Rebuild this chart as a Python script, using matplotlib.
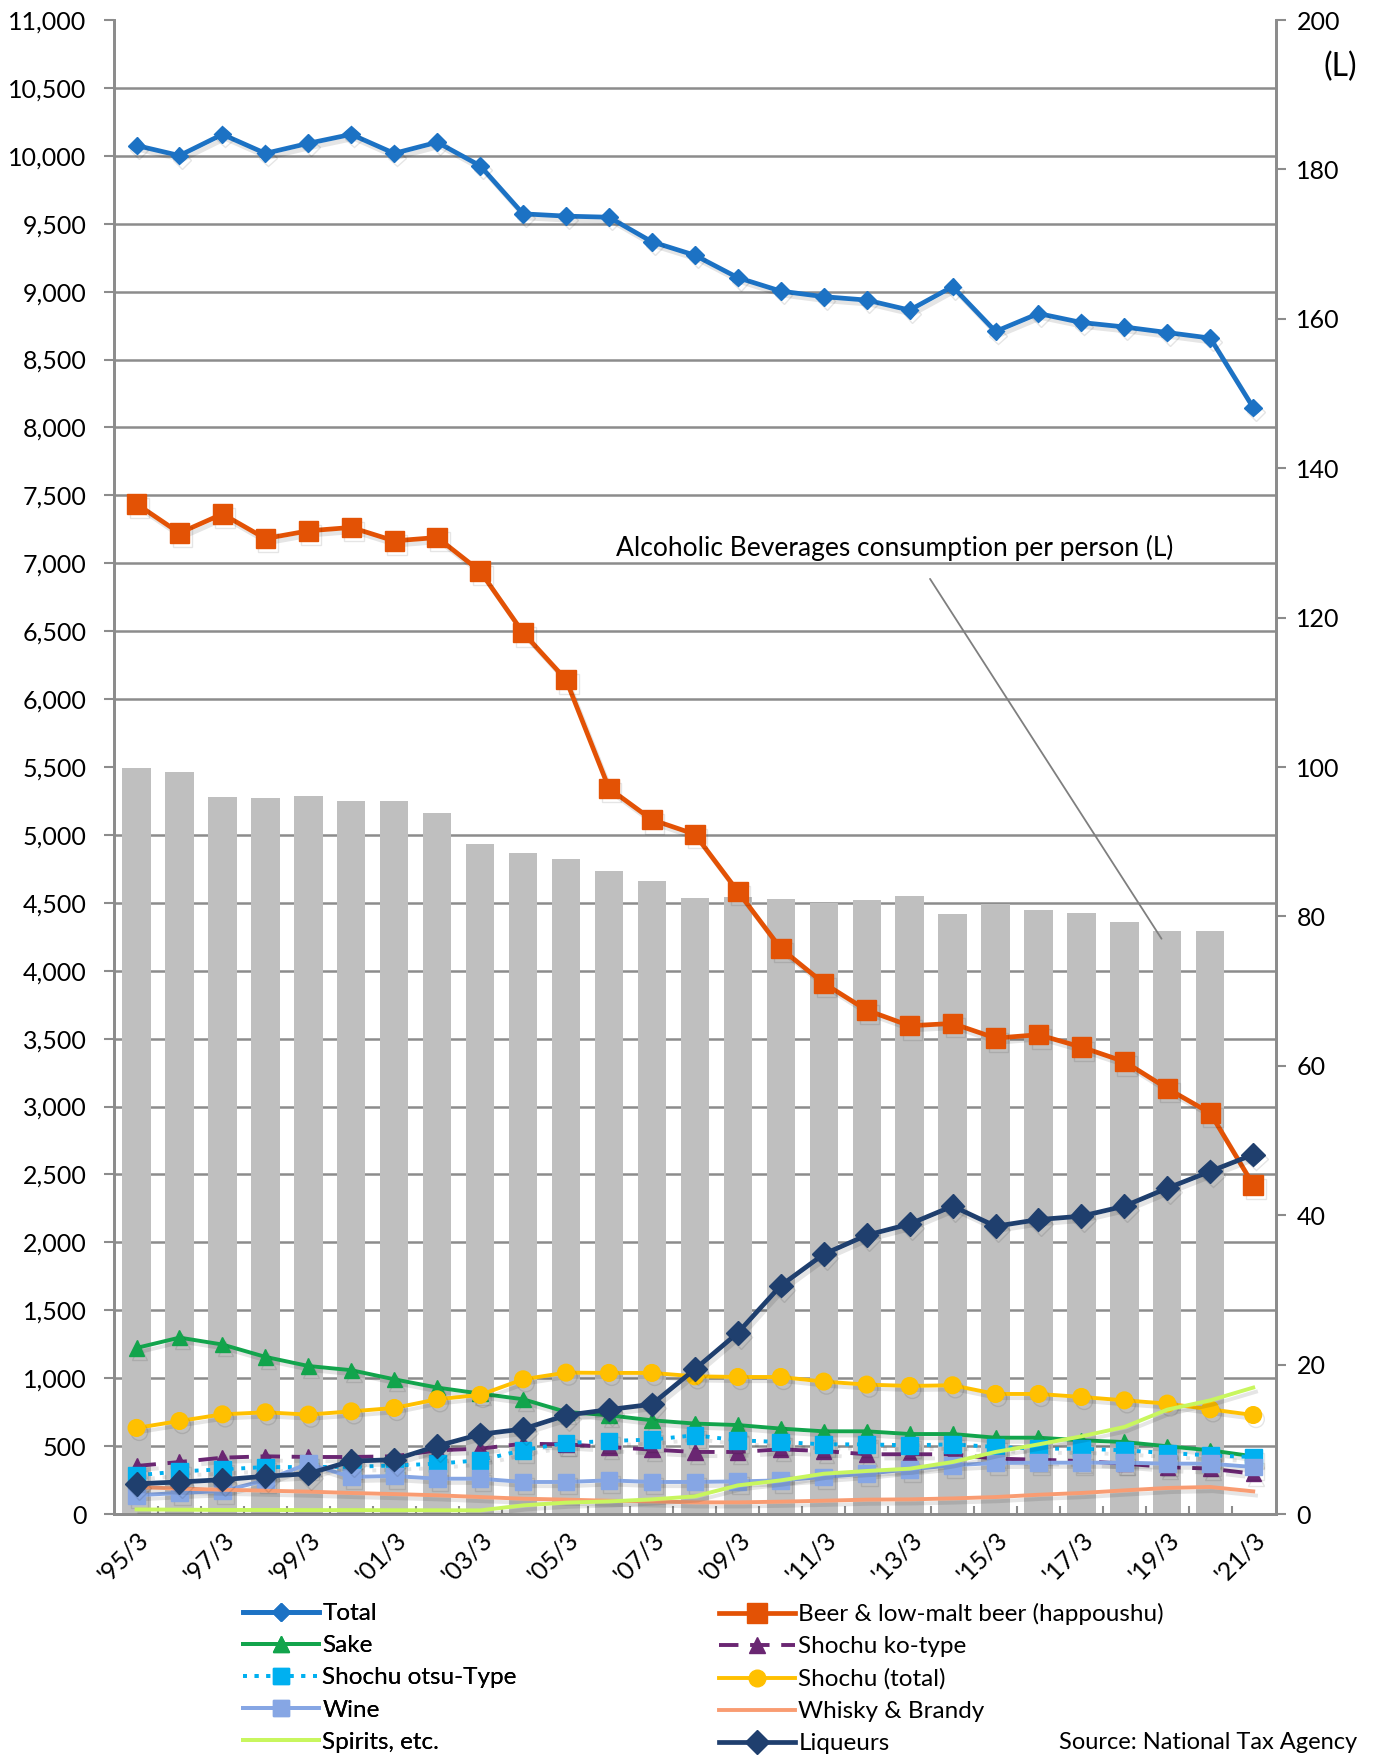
import matplotlib.pyplot as plt
import matplotlib.patheffects as pe
from matplotlib.lines import Line2D
from matplotlib.ticker import MultipleLocator, FuncFormatter

plt.rcParams['font.family'] = ['Lato', 'DejaVu Sans']

# fiscal years (March)
years = ["'%02d/3" % (y % 100) for y in range(1995, 2022)]

# consumption, thousand kL (left axis)
total = [10076, 10002, 10158, 10018, 10092, 10158, 10018, 10100, 9927, 9573, 9556, 9548, 9367,
         9268, 9103, 9004, 8963, 8938, 8864, 9037, 8707, 8839, 8773, 8740, 8699, 8658, 8146]
beer = [7437, 7223, 7363, 7182, 7239, 7264, 7165, 7190, 6942, 6489, 6143, 5343, 5112,
        5005, 4584, 4164, 3908, 3710, 3595, 3612, 3504, 3529, 3438, 3331, 3133, 2952, 2424]
sake = [1223, 1299, 1248, 1157, 1090, 1059, 992, 931, 887, 845, 752, 727, 690,
        666, 655, 629, 609, 609, 589, 589, 562, 562, 543, 530, 499, 469, 425]
shochu_ko = [354, 383, 415, 425, 420, 420, 425, 469, 481, 518, 513, 494, 474,
             457, 457, 476, 464, 440, 440, 440, 408, 400, 390, 371, 346, 334, 297]
shochu_otsu = [285, 314, 329, 346, 346, 348, 357, 371, 396, 470, 523, 538, 548,
               580, 543, 530, 513, 513, 506, 513, 494, 481, 481, 469, 449, 432, 420]
shochu_total = [634, 685, 734, 749, 732, 756, 781, 845, 877, 992, 1041, 1039, 1039,
                1014, 1009, 1009, 975, 953, 943, 948, 884, 884, 862, 837, 813, 771, 729]
wine = [138, 155, 169, 248, 371, 273, 280, 260, 260, 236, 236, 248, 236,
        236, 240, 248, 273, 297, 329, 359, 376, 378, 378, 378, 371, 371, 346]
whisky = [199, 187, 179, 172, 165, 155, 147, 138, 125, 113, 106, 98, 93,
          86, 86, 91, 98, 106, 108, 115, 125, 142, 155, 174, 192, 199, 167]
spirits = [34, 32, 30, 30, 29, 29, 28, 28, 27, 64, 84, 93, 108,
           130, 211, 248, 297, 317, 334, 383, 457, 513, 572, 641, 769, 837, 931]
liqueurs = [223, 236, 253, 278, 297, 390, 400, 501, 587, 626, 727, 769, 808,
            1066, 1334, 1682, 1913, 2053, 2135, 2267, 2119, 2168, 2193, 2267, 2399, 2523, 2647]

# consumption per person, L (right axis), '95/3 .. '20/3
per_person = [99.9, 99.4, 96.0, 95.8, 96.1, 95.4, 95.4, 93.9, 89.7, 88.5, 87.7, 86.1, 84.8,
              82.5, 82.6, 82.3, 81.8, 82.2, 82.8, 80.3, 81.6, 80.9, 80.5, 79.3, 78.0, 78.0]

series = [
    ("Total", total, dict(color="#1C72C4", marker="D", ms=9, lw=3.4)),
    ("Beer & low-malt beer (happoushu)", beer, dict(color="#E35205", marker="s", ms=14, lw=3.4)),
    ("Sake", sake, dict(color="#12A44C", marker="^", ms=11, lw=2.8)),
    ("Shochu ko-type", shochu_ko, dict(color="#6A2672", marker="^", ms=11, lw=2.8, ls=(0, (5, 3)))),
    ("Shochu otsu-Type", shochu_otsu, dict(color="#00B0F0", marker="s", ms=12, lw=2.8, ls=(0, (1, 2)))),
    ("Shochu (total)", shochu_total, dict(color="#FFC000", marker="o", ms=12, lw=2.8)),
    ("Wine", wine, dict(color="#86A6E4", marker="s", ms=12, lw=2.8)),
    ("Whisky & Brandy", whisky, dict(color="#F99C72", lw=2.8)),
    ("Spirits, etc.", spirits, dict(color="#C8F65E", lw=2.8)),
    ("Liqueurs", liqueurs, dict(color="#1F3F6E", marker="D", ms=12, lw=3.4)),
]

fig = plt.figure(figsize=(13.76, 17.55), dpi=100)
ax2 = fig.add_axes([0.083, 0.1373, 0.844, 0.8513])
ax = ax2.twinx()
ax.yaxis.tick_left()
ax2.yaxis.tick_right()
ax.set_zorder(ax2.get_zorder() + 1)
ax.patch.set_visible(False)

x = list(range(len(years)))
grid_col = "#8C8C8C"

# bars: per person consumption
ax2.bar(x[:len(per_person)], per_person, width=0.66, color="#BFBFBF", zorder=2)
ax2.set_ylim(0, 200)
ax2.set_yticks(range(0, 201, 20))
ax2.yaxis.set_minor_locator(MultipleLocator(200 / 22))
ax2.grid(True, which="minor", axis="y", color=grid_col, lw=1.8, zorder=0)
ax2.tick_params(axis="y", which="minor", length=0)
ax2.tick_params(axis="y", which="major", direction="out", length=7, width=1.5,
                color=grid_col, labelsize=18, pad=8)
ax2.text(1.056, 0.9685, "(L)", transform=ax2.transAxes, fontsize=23, ha="center", va="center")

shadow = [pe.SimpleLineShadow(offset=(2, -3), shadow_color="black", alpha=0.1), pe.Normal()]
legend_handles = []
for name, vals, kw in series:
    ax.plot(x, vals, path_effects=shadow, zorder=3, **kw)
    legend_handles.append(Line2D([], [], label=name, **kw))

ax.set_ylim(0, 11000)
ax.set_yticks(range(0, 11001, 500))
ax.yaxis.set_major_formatter(FuncFormatter(lambda v, p: f"{int(v):,}"))
ax.tick_params(axis="y", direction="out", length=7, width=1.5, color=grid_col, labelsize=18, pad=13)

ax2.set_xlim(-0.52, len(years) - 0.48)
ax2.set_xticks(x[::2])
ax2.set_xticklabels(years[::2], rotation=45, ha="right", va="top", rotation_mode="anchor", fontsize=18)
ax2.set_xticks([i + 0.5 for i in x[:-1]], minor=True)
ax2.tick_params(axis="x", which="major", length=0, pad=10)
ax2.tick_params(axis="x", which="minor", direction="in", length=6, width=1.5, color=grid_col)

for a in (ax, ax2):
    for s in a.spines.values():
        s.set_color(grid_col)
        s.set_linewidth(2)
ax.spines["top"].set_visible(False)
ax2.spines["top"].set_visible(False)

# annotation for bars
ax2.annotate("", xy=(23.9, 76.7), xytext=(18.44, 125.5),
             arrowprops=dict(arrowstyle="-", color="#7F7F7F", lw=1.3))
ax2.text(17.66, 129.3, "Alcoholic Beverages consumption per person (L)", fontsize=19,
         ha="center", va="center")

# legend: two columns
leg_kw = dict(loc="upper left", frameon=False, fontsize=17.5, handlelength=3.1,
              labelspacing=0.46, handletextpad=0.15, borderpad=0)
leg1 = fig.legend(handles=legend_handles[0::2], bbox_to_anchor=(0.168, 0.0935), **leg_kw)
leg2 = fig.legend(handles=legend_handles[1::2], bbox_to_anchor=(0.514, 0.0935), **leg_kw)
fig.add_artist(leg1)

fig.text(0.986, 0.001, "Source: National Tax Agency", fontsize=17, ha="right", va="bottom")

fig.savefig("out.png", dpi=100)
